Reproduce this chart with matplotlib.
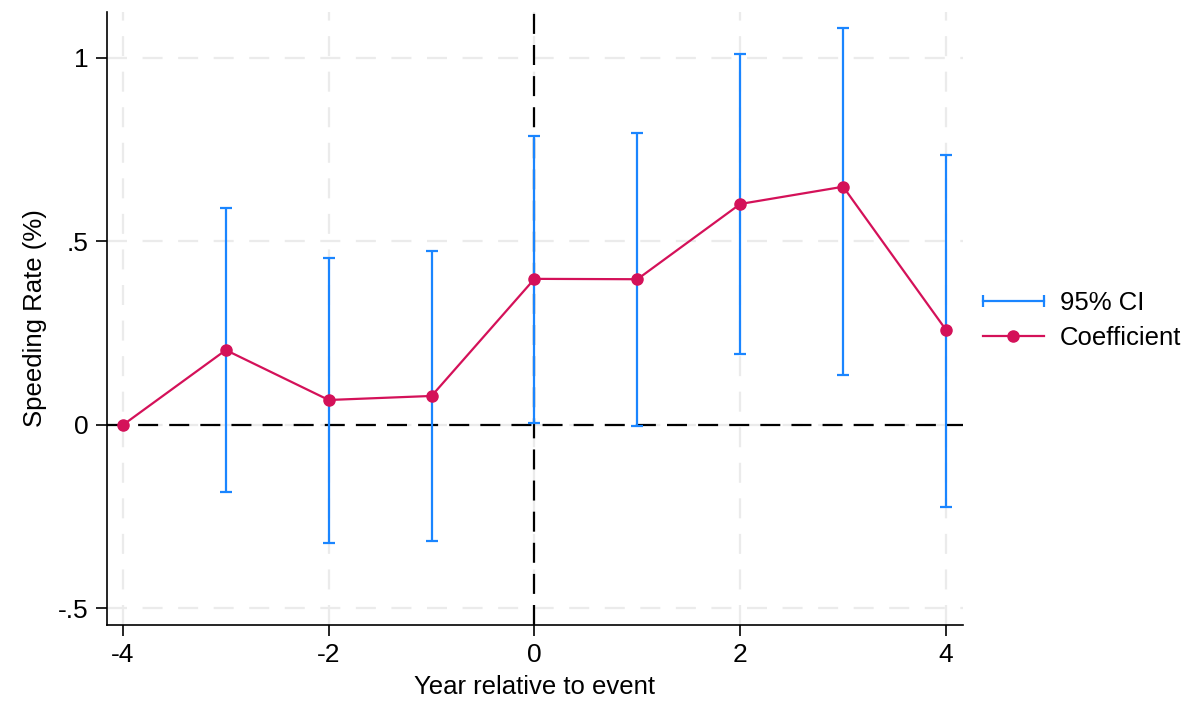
import matplotlib
matplotlib.use("Agg")
import matplotlib.pyplot as plt
from matplotlib.lines import Line2D
from matplotlib.legend_handler import HandlerLine2D
import numpy as np

plt.rcParams['font.family'] = ['Liberation Sans', 'DejaVu Sans']

years = [-4, -3, -2, -1, 0, 1, 2, 3, 4]
coef = [0.0, 0.204, 0.068, 0.079, 0.398, 0.397, 0.602, 0.649, 0.259]
ci_low = [None, -0.183, -0.322, -0.316, 0.005, -0.003, 0.193, 0.136, -0.223]
ci_high = [None, 0.591, 0.455, 0.474, 0.787, 0.796, 1.011, 1.082, 0.736]

xticks = [-4, -2, 0, 2, 4]
yticks = [-0.5, 0, 0.5, 1]
yticklabels = ['-.5', '0', '.5', '1']

blue = '#1a85ff'
red = '#d41159'
fs = 18.5

fig = plt.figure(figsize=(11.92, 7.02), dpi=100)
ax = fig.add_axes([107/1192, 1 - 625/702, (963-107)/1192, (625-12)/702])

ax.set_xlim(-4.155, 4.165)
ax.set_ylim(-0.545, 1.125)

# grid
for xv in xticks:
    ax.axvline(xv, color='#ebebeb', lw=1.6, dashes=(9, 7), zorder=0)
for yv in yticks:
    ax.axhline(yv, color='#ebebeb', lw=1.6, dashes=(9, 7), zorder=0)

# reference lines
ax.axhline(0, color='black', lw=1.6, dashes=(9, 5), zorder=1)
ax.axvline(0, color='black', lw=1.6, dashes=(9, 5), zorder=1)

# CI
cx = [x for x, l in zip(years, ci_low) if l is not None]
cl = np.array([l for l in ci_low if l is not None])
ch = np.array([h for h in ci_high if h is not None])
cc = (cl + ch) / 2
ax.errorbar(cx, cc, yerr=[cc - cl, ch - cc], fmt='none', ecolor=blue,
            elinewidth=1.6, capsize=4, capthick=1.6, zorder=2)

ln, = ax.plot(years, coef, color=red, lw=1.6, marker='o', markersize=8,
              zorder=3, label='Coefficient')

ax.spines['top'].set_visible(False)
ax.spines['right'].set_visible(False)
ax.spines['left'].set_linewidth(1.2)
ax.spines['bottom'].set_linewidth(1.2)

ax.set_xticks(xticks)
ax.set_xticklabels([str(v) for v in xticks], fontsize=19)
ax.set_yticks(yticks)
ax.set_yticklabels(yticklabels, fontsize=19)
ax.tick_params(axis='both', length=8, width=1.2, pad=5)

ax.set_xlabel('Year relative to event', fontsize=fs, labelpad=6)
ax.set_ylabel('Speeding Rate (%)', fontsize=fs, labelpad=8)

ci_proxy = Line2D([], [], color=blue, lw=1.6, marker='|', markersize=8,
                  markeredgewidth=1.6)
leg = fig.legend(handles=[ci_proxy, ln], labels=['95% CI', 'Coefficient'],
                 loc='center left', bbox_to_anchor=(983/1192, 1 - 320.5/702),
                 frameon=False, fontsize=fs, handlelength=2.37, handletextpad=0.62,
                 labelspacing=0.42, borderpad=0, borderaxespad=0,
                 handler_map={ci_proxy: HandlerLine2D(numpoints=2, marker_pad=0)})

fig.savefig('out.png', dpi=100)
